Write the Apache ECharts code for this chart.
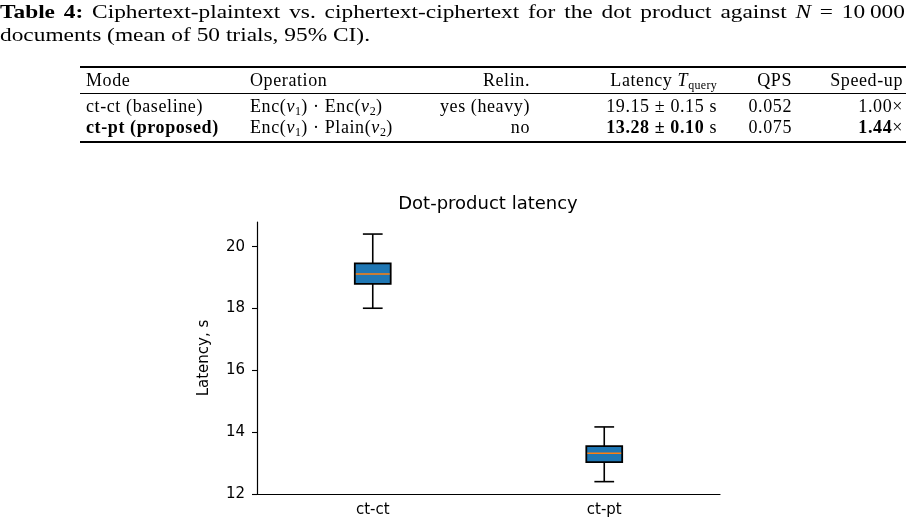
<!DOCTYPE html>
<html>
<head>
<meta charset="utf-8">
<script src="https://cdn.jsdelivr.net/npm/echarts@6/dist/echarts.min.js"></script>
<style>
  html, body { margin: 0; padding: 0; background: #fff; }
  #page { position: relative; width: 920px; height: 529px; overflow: hidden; }
  #chart { position: absolute; left: 0; top: 0; width: 920px; height: 529px; }
  .tex { position: absolute; font-family: 'Liberation Serif', serif; color: #000; white-space: nowrap; }
  .cap { font-size: 19.5px; line-height: 23px; transform-origin: 0 0; }
  #cap1 { left: 0; top: 0; white-space: normal; text-align: justify; text-align-last: justify; }
  #cap2 { left: 0; top: 23px; }
  .cell { font-size: 18px; line-height: 21px; letter-spacing: 0.6px; }
  .cell sub { font-size: 12px; vertical-align: -3px; line-height: 0; letter-spacing: 0.3px; }
  .rule { position: absolute; background: #000; left: 80px; width: 826px; }
</style>
</head>
<body>
<div id="page">
  <div id="chart"></div>
  <div id="cap1" class="tex cap"><b>Table 4:</b> Ciphertext-plaintext vs. ciphertext-ciphertext for the dot product against <i>N</i> = 10&#8201;000</div>
  <div id="cap2" class="tex cap">documents (mean of 50 trials, 95% CI).</div>
  <div class="rule" style="top:66px;height:1.6px"></div>
  <div class="rule" style="top:93px;height:1px"></div>
  <div class="rule" style="top:141px;height:1.6px"></div>
</div>
<script>
// Table content
const tableHeader = ['Mode', 'Operation', 'Relin.', 'Latency <i>T</i><sub>query</sub>', 'QPS', 'Speed-up'];
const tableRows = [
  ['ct-ct (baseline)', 'Enc(<i>v</i><sub>1</sub>) · Enc(<i>v</i><sub>2</sub>)', 'yes (heavy)', '19.15 ± 0.15 s', '0.052', '1.00×'],
  ['<b>ct-pt (proposed)</b>', 'Enc(<i>v</i><sub>1</sub>) · Plain(<i>v</i><sub>2</sub>)', 'no', '<b>13.28 ± 0.10</b> s', '0.075', '<b>1.44</b>×']
];

// Chart data (box plot statistics, seconds)
const categories = ['ct-ct', 'ct-pt'];
const whiskerLow = [18.01, 12.40];
const quartile1 = [18.80, 13.03];
const medians = [19.12, 13.32];
const quartile3 = [19.46, 13.55];
const whiskerHigh = [20.41, 14.17];
const yTicks = [12, 14, 16, 18, 20];

// Widen caption glyphs (second line ends near x=370), then justify line 1 to 905px
const cap2 = document.getElementById('cap2');
const capScale = 370 / cap2.getBoundingClientRect().width;
document.querySelectorAll('.cap').forEach(el => {
  el.style.transform = `scaleX(${capScale})`;
});
document.getElementById('cap1').style.width = (905 / capScale) + 'px';

// Table layout: anchor x of each column and its alignment
const colAnchor = [86, 250, 530, 717, 792, 903];
const colAlign = ['left', 'left', 'right', 'right', 'right', 'right'];
const rowTop = [70, 96, 117];

function addRow(cells, top) {
  const page = document.getElementById('page');
  cells.forEach((html, i) => {
    const div = document.createElement('div');
    div.className = 'tex cell';
    div.innerHTML = html;
    div.style.top = top + 'px';
    if (colAlign[i] === 'left') {
      div.style.left = colAnchor[i] + 'px';
    } else {
      div.style.right = (920 - colAnchor[i]) + 'px';
    }
    page.appendChild(div);
  });
}
addRow(tableHeader, rowTop[0]);
tableRows.forEach((row, r) => addRow(row, rowTop[r + 1]));

// Create chart
const chart = echarts.init(document.getElementById('chart'));

const boxData = categories.map((c, i) => [i, whiskerLow[i], quartile1[i], medians[i], quartile3[i], whiskerHigh[i]]);

function renderBox(params, api) {
  const x = api.value(0);
  const lo = api.coord([x, api.value(1)]);
  const q1 = api.coord([x, api.value(2)]);
  const med = api.coord([x, api.value(3)]);
  const q3 = api.coord([x, api.value(4)]);
  const hi = api.coord([x, api.value(5)]);
  const band = api.size([1, 0])[0];
  const bw = band * 0.155;
  const cw = bw * 0.55;
  const cx = lo[0];
  const black = {stroke: '#000', lineWidth: 1.6};
  return {
    type: 'group',
    children: [
      {type: 'line', shape: {x1: cx, y1: q1[1], x2: cx, y2: lo[1]}, style: black},
      {type: 'line', shape: {x1: cx, y1: q3[1], x2: cx, y2: hi[1]}, style: black},
      {type: 'line', shape: {x1: cx - cw / 2, y1: lo[1], x2: cx + cw / 2, y2: lo[1]}, style: black},
      {type: 'line', shape: {x1: cx - cw / 2, y1: hi[1], x2: cx + cw / 2, y2: hi[1]}, style: black},
      {type: 'rect', shape: {x: cx - bw / 2, y: q3[1], width: bw, height: q1[1] - q3[1]},
        style: {fill: '#1f77b4', stroke: '#000', lineWidth: 1.8}},
      {type: 'line', shape: {x1: cx - bw / 2 + 1, y1: med[1], x2: cx + bw / 2 - 1, y2: med[1]},
        style: {stroke: '#ff7f0e', lineWidth: 1.5}}
    ]
  };
}

const font = 'DejaVu Sans';
const option = {
  animation: false,
  title: {
    text: 'Dot-product latency',
    left: 488,
    top: 195,
    textAlign: 'center',
    padding: 0,
    textStyle: {fontFamily: font, fontSize: 18, fontWeight: 'normal', color: '#000'}
  },
  grid: {
    left: 257,
    top: 222,
    width: 463,
    height: 272
  },
  xAxis: {
    type: 'category',
    data: categories,
    axisLine: {lineStyle: {color: '#000', width: 1.2}},
    axisTick: {alignWithLabel: true, length: 5, lineStyle: {color: '#000', width: 1.1}},
    axisLabel: {margin: 9, fontSize: 15, color: '#000', fontFamily: font},
    splitLine: {show: false}
  },
  yAxis: {
    type: 'value',
    min: 12,
    max: 20.8,
    name: 'Latency, s',
    nameLocation: 'middle',
    nameGap: 45,
    nameTextStyle: {fontFamily: font, fontSize: 15, color: '#000'},
    axisLine: {show: true, lineStyle: {color: '#000', width: 1.2}},
    axisTick: {show: true, length: 5, customValues: yTicks, lineStyle: {color: '#000', width: 1.1}},
    axisLabel: {customValues: yTicks, margin: 12, fontSize: 15, color: '#000', fontFamily: font},
    splitLine: {show: false}
  },
  series: [{
    type: 'custom',
    renderItem: renderBox,
    data: boxData,
    encode: {x: 0, y: [1, 2, 3, 4, 5]}
  }]
};
chart.setOption(option);
</script>
</body>
</html>
